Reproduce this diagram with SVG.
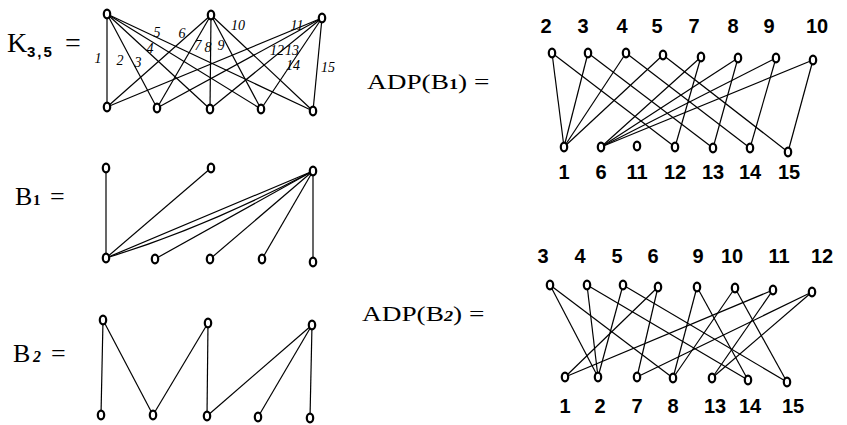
<svg xmlns="http://www.w3.org/2000/svg" width="847" height="425" viewBox="0 0 847 425">
<style>
.n{fill:#fff;stroke:#000;stroke-width:2.2}
.e line,.e path{stroke:#000;stroke-width:1.2;fill:none}
.t{font-family:"Liberation Serif","Times New Roman",serif;fill:#000}
.lb{font-family:"Liberation Sans",Arial,sans-serif;font-weight:bold;font-size:20px;text-anchor:middle;fill:#000}
.hl{font-family:"Liberation Serif",serif;font-style:italic;font-size:14px;text-anchor:middle;fill:#000}
</style>
<rect width="847" height="425" fill="#fff"/>

<!-- titles -->
<g id="title-k35" class="t"><text x="7" y="52" font-size="28">K</text><text x="27" y="57" font-size="15" font-weight="bold" letter-spacing="2" font-family="Liberation Sans,sans-serif">3,5</text><text x="65" y="52" font-size="28">=</text></g>
<g id="title-b1" class="t"><text x="15" y="205" font-size="26">B</text><text x="33" y="205" font-size="15" font-weight="bold">1</text><text x="50" y="205" font-size="26">=</text></g>
<g id="title-b2" class="t"><text x="13" y="362" font-size="26">B</text><text x="33" y="362" font-size="16" font-weight="bold" font-style="italic">2</text><text x="51" y="362" font-size="26">=</text></g>
<g id="title-adp1" class="t" transform="translate(367,89) scale(1.3,1)"><text x="0" y="0" font-size="21">ADP(B<tspan font-size="14" font-weight="bold">1</tspan>) =</text></g>
<g id="title-adp2" class="t" transform="translate(362,321) scale(1.3,1)"><text x="0" y="0" font-size="21">ADP(B<tspan font-size="14" font-weight="bold" font-style="italic">2</tspan>) =</text></g>

<!-- connectors -->
<g id="connectors" class="e">
  <!-- K3,5 -->
  <line x1="107" y1="14" x2="107" y2="107"/><line x1="107" y1="14" x2="157" y2="108"/><line x1="107" y1="14" x2="210" y2="109"/><line x1="107" y1="14" x2="261" y2="109"/><line x1="107" y1="14" x2="313" y2="111"/>
  <line x1="211" y1="15" x2="107" y2="107"/><line x1="211" y1="15" x2="157" y2="108"/><line x1="211" y1="15" x2="210" y2="109"/><line x1="211" y1="15" x2="261" y2="109"/><line x1="211" y1="15" x2="313" y2="111"/>
  <line x1="322" y1="18" x2="107" y2="107"/><line x1="322" y1="18" x2="157" y2="108"/><line x1="322" y1="18" x2="210" y2="109"/><line x1="322" y1="18" x2="261" y2="109"/><line x1="322" y1="18" x2="313" y2="111"/>
  <!-- B1 -->
  <line x1="106" y1="168" x2="106" y2="258"/><line x1="211" y1="168" x2="106" y2="258"/><line x1="313" y1="171" x2="106" y2="258"/><path d="M106,258 Q205,228 313,171"/>
  <line x1="313" y1="171" x2="155" y2="259"/><line x1="313" y1="171" x2="210" y2="259"/><line x1="313" y1="171" x2="262" y2="259"/><line x1="313" y1="171" x2="313" y2="262"/>
  <!-- B2 -->
  <line x1="103" y1="320" x2="101" y2="415"/><line x1="103" y1="320" x2="153" y2="415"/><line x1="208" y1="323" x2="153" y2="415"/><line x1="208" y1="323" x2="207" y2="416"/>
  <line x1="312" y1="325" x2="207" y2="416"/><line x1="312" y1="325" x2="258" y2="417"/><line x1="312" y1="325" x2="310" y2="418"/>
  <!-- ADP(B1) -->
  <line x1="552" y1="53" x2="564" y2="147"/><line x1="552" y1="53" x2="675" y2="147"/>
  <line x1="588" y1="53" x2="564" y2="147"/><line x1="588" y1="53" x2="713" y2="148"/>
  <line x1="626" y1="53" x2="564" y2="147"/><line x1="626" y1="53" x2="750" y2="148"/>
  <line x1="663" y1="55" x2="564" y2="147"/><line x1="663" y1="55" x2="788" y2="152"/>
  <line x1="701" y1="57" x2="601" y2="147"/><line x1="701" y1="57" x2="675" y2="147"/>
  <line x1="738" y1="58" x2="601" y2="147"/><line x1="738" y1="58" x2="713" y2="148"/>
  <line x1="776" y1="58" x2="601" y2="147"/><line x1="776" y1="58" x2="750" y2="148"/>
  <line x1="813" y1="60" x2="601" y2="147"/><line x1="813" y1="60" x2="788" y2="152"/>
  <!-- ADP(B2) -->
  <line x1="550" y1="285" x2="598" y2="377"/><line x1="550" y1="285" x2="673" y2="378"/>
  <line x1="587" y1="285" x2="598" y2="377"/><line x1="587" y1="285" x2="748" y2="380"/>
  <line x1="623" y1="285" x2="598" y2="377"/><line x1="623" y1="285" x2="787" y2="382"/>
  <line x1="658" y1="287" x2="637" y2="377"/><line x1="658" y1="287" x2="565" y2="377"/>
  <line x1="697" y1="287" x2="673" y2="378"/><line x1="697" y1="287" x2="748" y2="380"/>
  <line x1="735" y1="288" x2="673" y2="378"/><line x1="735" y1="288" x2="787" y2="382"/>
  <line x1="773" y1="290" x2="712" y2="378"/><line x1="773" y1="290" x2="565" y2="377"/>
  <line x1="812" y1="292" x2="712" y2="378"/><line x1="812" y1="292" x2="637" y2="377"/>
  <!-- K3,5 edge labels -->
  <g id="edge-labels">
    <text class="hl" x="98" y="63">1</text><text class="hl" x="120" y="65">2</text><text class="hl" x="138" y="67">3</text>
    <text class="hl" x="150" y="53">4</text><text class="hl" x="157" y="37">5</text><text class="hl" x="182" y="38">6</text>
    <text class="hl" x="198" y="50">7</text><text class="hl" x="208" y="52">8</text><text class="hl" x="221" y="50">9</text>
    <text class="hl" x="238" y="30">10</text><text class="hl" x="297" y="30">11</text><text class="hl" x="277" y="55">12</text>
    <text class="hl" x="292" y="55">13</text><text class="hl" x="293" y="70">14</text><text class="hl" x="328" y="72">15</text>
  </g>
</g>

<!-- K3,5 nodes -->
<g id="k-t1"><ellipse class="n" cx="107" cy="14" rx="3.2" ry="4.4"/></g>
<g id="k-t2"><ellipse class="n" cx="211" cy="15" rx="3.2" ry="4.4"/></g>
<g id="k-t3"><ellipse class="n" cx="322" cy="18" rx="3.2" ry="4.4"/></g>
<g id="k-b1"><ellipse class="n" cx="107" cy="107" rx="3.2" ry="4.4"/></g>
<g id="k-b2"><ellipse class="n" cx="157" cy="108" rx="3.2" ry="4.4"/></g>
<g id="k-b3"><ellipse class="n" cx="210" cy="109" rx="3.2" ry="4.4"/></g>
<g id="k-b4"><ellipse class="n" cx="261" cy="109" rx="3.2" ry="4.4"/></g>
<g id="k-b5"><ellipse class="n" cx="313" cy="111" rx="3.2" ry="4.4"/></g>

<!-- B1 nodes -->
<g id="b1-t1"><ellipse class="n" cx="106" cy="168" rx="3.2" ry="4.4"/></g>
<g id="b1-t2"><ellipse class="n" cx="211" cy="168" rx="3.2" ry="4.4"/></g>
<g id="b1-t3"><ellipse class="n" cx="313" cy="171" rx="3.2" ry="4.4"/></g>
<g id="b1-b1"><ellipse class="n" cx="106" cy="258" rx="3.2" ry="4.4"/></g>
<g id="b1-b2"><ellipse class="n" cx="155" cy="259" rx="3.2" ry="4.4"/></g>
<g id="b1-b3"><ellipse class="n" cx="210" cy="259" rx="3.2" ry="4.4"/></g>
<g id="b1-b4"><ellipse class="n" cx="262" cy="259" rx="3.2" ry="4.4"/></g>
<g id="b1-b5"><ellipse class="n" cx="313" cy="262" rx="3.2" ry="4.4"/></g>

<!-- B2 nodes -->
<g id="b2-t1"><ellipse class="n" cx="103" cy="320" rx="3.2" ry="4.4"/></g>
<g id="b2-t2"><ellipse class="n" cx="208" cy="323" rx="3.2" ry="4.4"/></g>
<g id="b2-t3"><ellipse class="n" cx="312" cy="325" rx="3.2" ry="4.4"/></g>
<g id="b2-b1"><ellipse class="n" cx="101" cy="415" rx="3.2" ry="4.4"/></g>
<g id="b2-b2"><ellipse class="n" cx="153" cy="415" rx="3.2" ry="4.4"/></g>
<g id="b2-b3"><ellipse class="n" cx="207" cy="416" rx="3.2" ry="4.4"/></g>
<g id="b2-b4"><ellipse class="n" cx="258" cy="417" rx="3.2" ry="4.4"/></g>
<g id="b2-b5"><ellipse class="n" cx="310" cy="418" rx="3.2" ry="4.4"/></g>

<!-- ADP(B1) nodes -->
<g id="a1-2"><ellipse class="n" cx="552" cy="53" rx="3.2" ry="4.4"/><text class="lb" x="546" y="33">2</text></g>
<g id="a1-3"><ellipse class="n" cx="588" cy="53" rx="3.2" ry="4.4"/><text class="lb" x="583" y="33">3</text></g>
<g id="a1-4"><ellipse class="n" cx="626" cy="53" rx="3.2" ry="4.4"/><text class="lb" x="622" y="33">4</text></g>
<g id="a1-5"><ellipse class="n" cx="663" cy="55" rx="3.2" ry="4.4"/><text class="lb" x="657" y="33">5</text></g>
<g id="a1-7"><ellipse class="n" cx="701" cy="57" rx="3.2" ry="4.4"/><text class="lb" x="694" y="33">7</text></g>
<g id="a1-8"><ellipse class="n" cx="738" cy="58" rx="3.2" ry="4.4"/><text class="lb" x="733" y="33">8</text></g>
<g id="a1-9"><ellipse class="n" cx="776" cy="58" rx="3.2" ry="4.4"/><text class="lb" x="769" y="33">9</text></g>
<g id="a1-10"><ellipse class="n" cx="813" cy="60" rx="3.2" ry="4.4"/><text class="lb" x="817" y="33">10</text></g>
<g id="a1-1"><ellipse class="n" cx="564" cy="147" rx="3.2" ry="4.4"/><text class="lb" x="564" y="179">1</text></g>
<g id="a1-6"><ellipse class="n" cx="601" cy="147" rx="3.2" ry="4.4"/><text class="lb" x="601" y="179">6</text></g>
<g id="a1-11"><ellipse class="n" cx="637" cy="146" rx="3.2" ry="4.4"/><text class="lb" x="637" y="179">11</text></g>
<g id="a1-12"><ellipse class="n" cx="675" cy="147" rx="3.2" ry="4.4"/><text class="lb" x="675" y="179">12</text></g>
<g id="a1-13"><ellipse class="n" cx="713" cy="148" rx="3.2" ry="4.4"/><text class="lb" x="713" y="179">13</text></g>
<g id="a1-14"><ellipse class="n" cx="750" cy="148" rx="3.2" ry="4.4"/><text class="lb" x="750" y="179">14</text></g>
<g id="a1-15"><ellipse class="n" cx="788" cy="152" rx="3.2" ry="4.4"/><text class="lb" x="789" y="179">15</text></g>

<!-- ADP(B2) nodes -->
<g id="a2-3"><ellipse class="n" cx="550" cy="285" rx="3.2" ry="4.4"/><text class="lb" x="543" y="263">3</text></g>
<g id="a2-4"><ellipse class="n" cx="587" cy="285" rx="3.2" ry="4.4"/><text class="lb" x="580" y="263">4</text></g>
<g id="a2-5"><ellipse class="n" cx="623" cy="285" rx="3.2" ry="4.4"/><text class="lb" x="617" y="263">5</text></g>
<g id="a2-6"><ellipse class="n" cx="658" cy="287" rx="3.2" ry="4.4"/><text class="lb" x="653" y="263">6</text></g>
<g id="a2-9"><ellipse class="n" cx="697" cy="287" rx="3.2" ry="4.4"/><text class="lb" x="698" y="263">9</text></g>
<g id="a2-10"><ellipse class="n" cx="735" cy="288" rx="3.2" ry="4.4"/><text class="lb" x="732" y="263">10</text></g>
<g id="a2-11"><ellipse class="n" cx="773" cy="290" rx="3.2" ry="4.4"/><text class="lb" x="779" y="263">11</text></g>
<g id="a2-12"><ellipse class="n" cx="812" cy="292" rx="3.2" ry="4.4"/><text class="lb" x="822" y="263">12</text></g>
<g id="a2-1"><ellipse class="n" cx="565" cy="377" rx="3.2" ry="4.4"/><text class="lb" x="565" y="413">1</text></g>
<g id="a2-2"><ellipse class="n" cx="598" cy="377" rx="3.2" ry="4.4"/><text class="lb" x="600" y="413">2</text></g>
<g id="a2-7"><ellipse class="n" cx="637" cy="377" rx="3.2" ry="4.4"/><text class="lb" x="637" y="413">7</text></g>
<g id="a2-8"><ellipse class="n" cx="673" cy="378" rx="3.2" ry="4.4"/><text class="lb" x="673" y="413">8</text></g>
<g id="a2-13"><ellipse class="n" cx="712" cy="378" rx="3.2" ry="4.4"/><text class="lb" x="715" y="413">13</text></g>
<g id="a2-14"><ellipse class="n" cx="748" cy="380" rx="3.2" ry="4.4"/><text class="lb" x="750" y="413">14</text></g>
<g id="a2-15"><ellipse class="n" cx="787" cy="382" rx="3.2" ry="4.4"/><text class="lb" x="793" y="413">15</text></g>
</svg>
